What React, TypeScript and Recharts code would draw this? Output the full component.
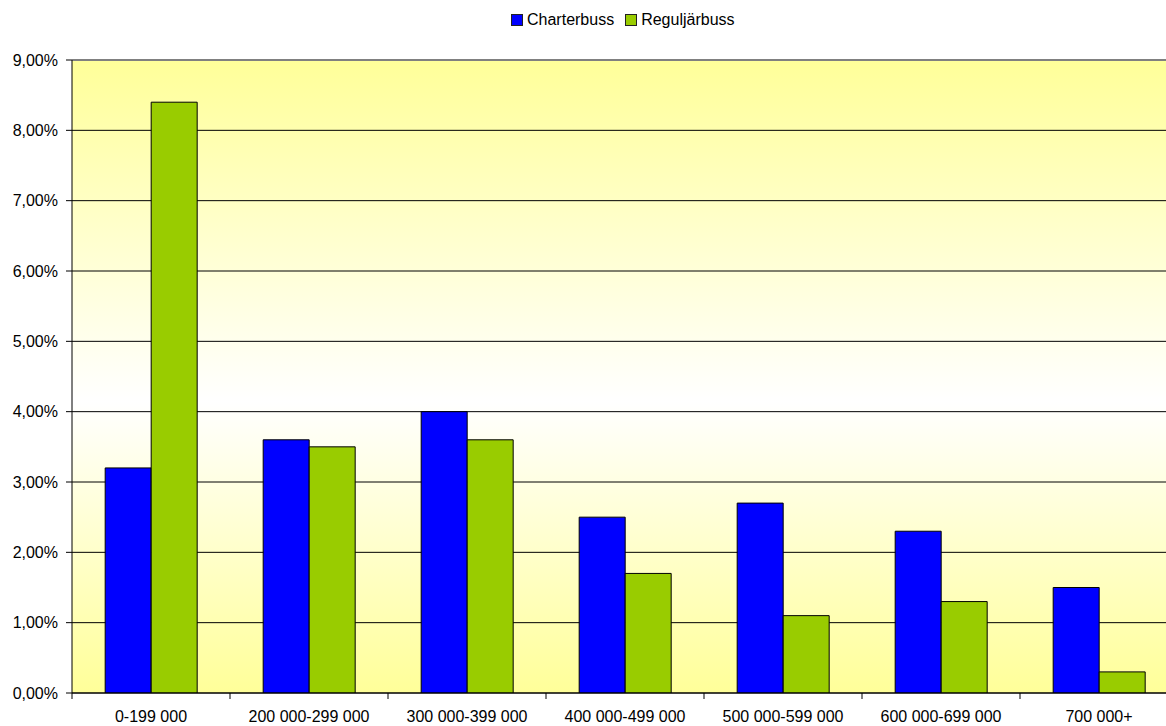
import React from 'react';
import { BarChart, Bar, XAxis, YAxis, CartesianGrid, ReferenceLine } from 'recharts';

const categories = [
  '0-199 000',
  '200 000-299 000',
  '300 000-399 000',
  '400 000-499 000',
  '500 000-599 000',
  '600 000-699 000',
  '700 000+',
];
const charterbuss = [3.2, 3.6, 4.0, 2.5, 2.7, 2.3, 1.5];
const reguljarbuss = [8.4, 3.5, 3.6, 1.7, 1.1, 1.3, 0.3];
const yTicks = [0, 1, 2, 3, 4, 5, 6, 7, 8, 9];
const seriesNames = ['Charterbuss', 'Reguljärbuss'];
const seriesColors = ['#0000FF', '#99CC00'];

const data = categories.map((c, i) => ({
  category: c,
  charter: charterbuss[i],
  regular: reguljarbuss[i],
}));

const fmt = (v: number) => v.toFixed(2).replace('.', ',') + '%';

const XTick = (props: any) => {
  const { x, y, payload } = props;
  const half = payload && payload.offset ? payload.offset : 79;
  return (
    <g>
      <line x1={x - half} x2={x - half} y1={y - 8} y2={y - 2} stroke="#000" strokeWidth={1} />
      <text x={x} y={y} dy={21} textAnchor="middle" fontSize={16} fill="#000">
        {payload.value}
      </text>
    </g>
  );
};

export default function App() {
  return (
    <div
      style={{
        position: 'absolute',
        left: 0,
        top: 0,
        width: 1166,
        height: 726,
        overflow: 'hidden',
        background: '#fff',
        fontFamily: '"Liberation Sans", Arial, sans-serif',
      }}
    >
      <div
        style={{
          position: 'absolute',
          top: 12,
          left: 511,
          display: 'flex',
          alignItems: 'center',
          fontSize: 16,
          lineHeight: '16px',
          color: '#000',
          zIndex: 2,
        }}
      >
        {seriesNames.map((n, i) => (
          <div key={n} style={{ display: 'flex', alignItems: 'center', marginRight: i === 0 ? 11 : 0 }}>
            <div
              style={{
                width: 10,
                height: 10,
                background: seriesColors[i],
                border: '1px solid #222',
                marginRight: 4,
              }}
            />
            <span>{n}</span>
          </div>
        ))}
      </div>
      <BarChart
        width={1178}
        height={726}
        data={data}
        margin={{ top: 60, right: 0, bottom: 0, left: 0 }}
        barCategoryGap="21%"
        barGap={0}
      >
        <defs>
          <linearGradient id="bgGrad" x1="0" y1="0" x2="0" y2="1">
            <stop offset="0%" stopColor="#FFFF99" />
            <stop offset="54%" stopColor="#FFFFFF" />
            <stop offset="100%" stopColor="#FFFF99" />
          </linearGradient>
        </defs>
        <CartesianGrid vertical={false} stroke="#000" strokeWidth={1} fill="url(#bgGrad)" fillOpacity={1} />
        <XAxis
          dataKey="category"
          height={33}
          axisLine={{ stroke: '#000' }}
          tickLine={false}
          tickSize={6}
          tickMargin={2}
          interval={0}
          tick={<XTick />}
        />
        <YAxis
          width={72}
          domain={[0, 9]}
          ticks={yTicks}
          tickFormatter={fmt}
          axisLine={{ stroke: '#000' }}
          tickLine={{ stroke: '#000' }}
          tickSize={6}
          tickMargin={8}
          tick={{ fontSize: 16, fill: '#000' }}
          allowDataOverflow
        />
        <ReferenceLine y={9} stroke="#808080" strokeWidth={2} />
        <Bar dataKey="charter" name={seriesNames[0]} fill={seriesColors[0]} stroke="#000" strokeWidth={1} isAnimationActive={false} />
        <Bar dataKey="regular" name={seriesNames[1]} fill={seriesColors[1]} stroke="#000" strokeWidth={1} isAnimationActive={false} />
      </BarChart>
    </div>
  );
}
